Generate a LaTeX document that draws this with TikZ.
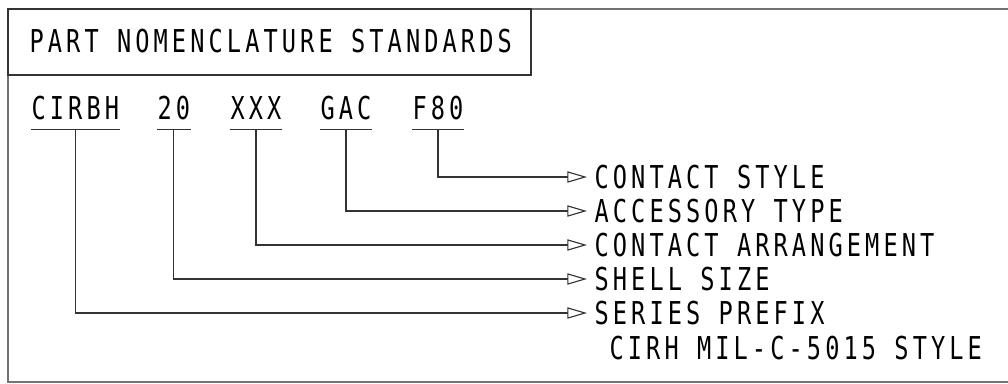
\documentclass[tikz,border=0pt]{standalone}
\usepackage{fontspec}
\setmainfont{DejaVu Sans Mono}[FakeStretch=0.75, LetterSpace=13]
\usetikzlibrary{arrows.meta}

\begin{document}
\begin{tikzpicture}[x=0.025cm, y=-0.025cm, line width=0.8pt, draw=black!80,
  font=\fontsize{22.4}{26}\selectfont,
  code/.style={anchor=base west, inner xsep=0pt, inner ysep=7pt, text depth=0pt},
  item/.style={anchor=west, inner xsep=5pt, inner ysep=0pt},
  tip/.style={-{Triangle[open, fill=white, length=14pt, width=8pt]}}]
\clip (0,0) rectangle (1008,383);
\draw[black!55] (8,9) rectangle (1030,382);
\draw (8,9) rectangle (531,75);
\node [anchor=base west, inner sep=0pt] (title) at (29,52) {PART NOMENCLATURE STANDARDS};

% part number fields
\node [code] (series) at (31,119) {CIRBH};
\node [code] (shell) at (157,119) {20};
\node [code] (arrangement) at (230,119) {XXX};
\node [code] (accessory) at (320,119) {GAC};
\node [code] (contact) at (412,119) {F80};

% meanings
\node [item] (lcontact) at (587,177) {CONTACT STYLE};
\node [item] (laccessory) at (587,211) {ACCESSORY TYPE};
\node [item] (larrangement) at (587,245) {CONTACT ARRANGEMENT};
\node [item] (lshell) at (587,279) {SHELL SIZE};
\node [item] (lseries) at (587,313) {SERIES PREFIX};
\node [anchor=west, inner sep=0pt] (note) at (609,348) {CIRH MIL-C-5015 STYLE};

\foreach \c/\l in {series/lseries, shell/lshell, arrangement/larrangement, accessory/laccessory, contact/lcontact} {
    \draw (\c.south west) -- (\c.south east);
    \draw [tip] (\c.south) |- (\l.west);
}
\end{tikzpicture}
\end{document}
